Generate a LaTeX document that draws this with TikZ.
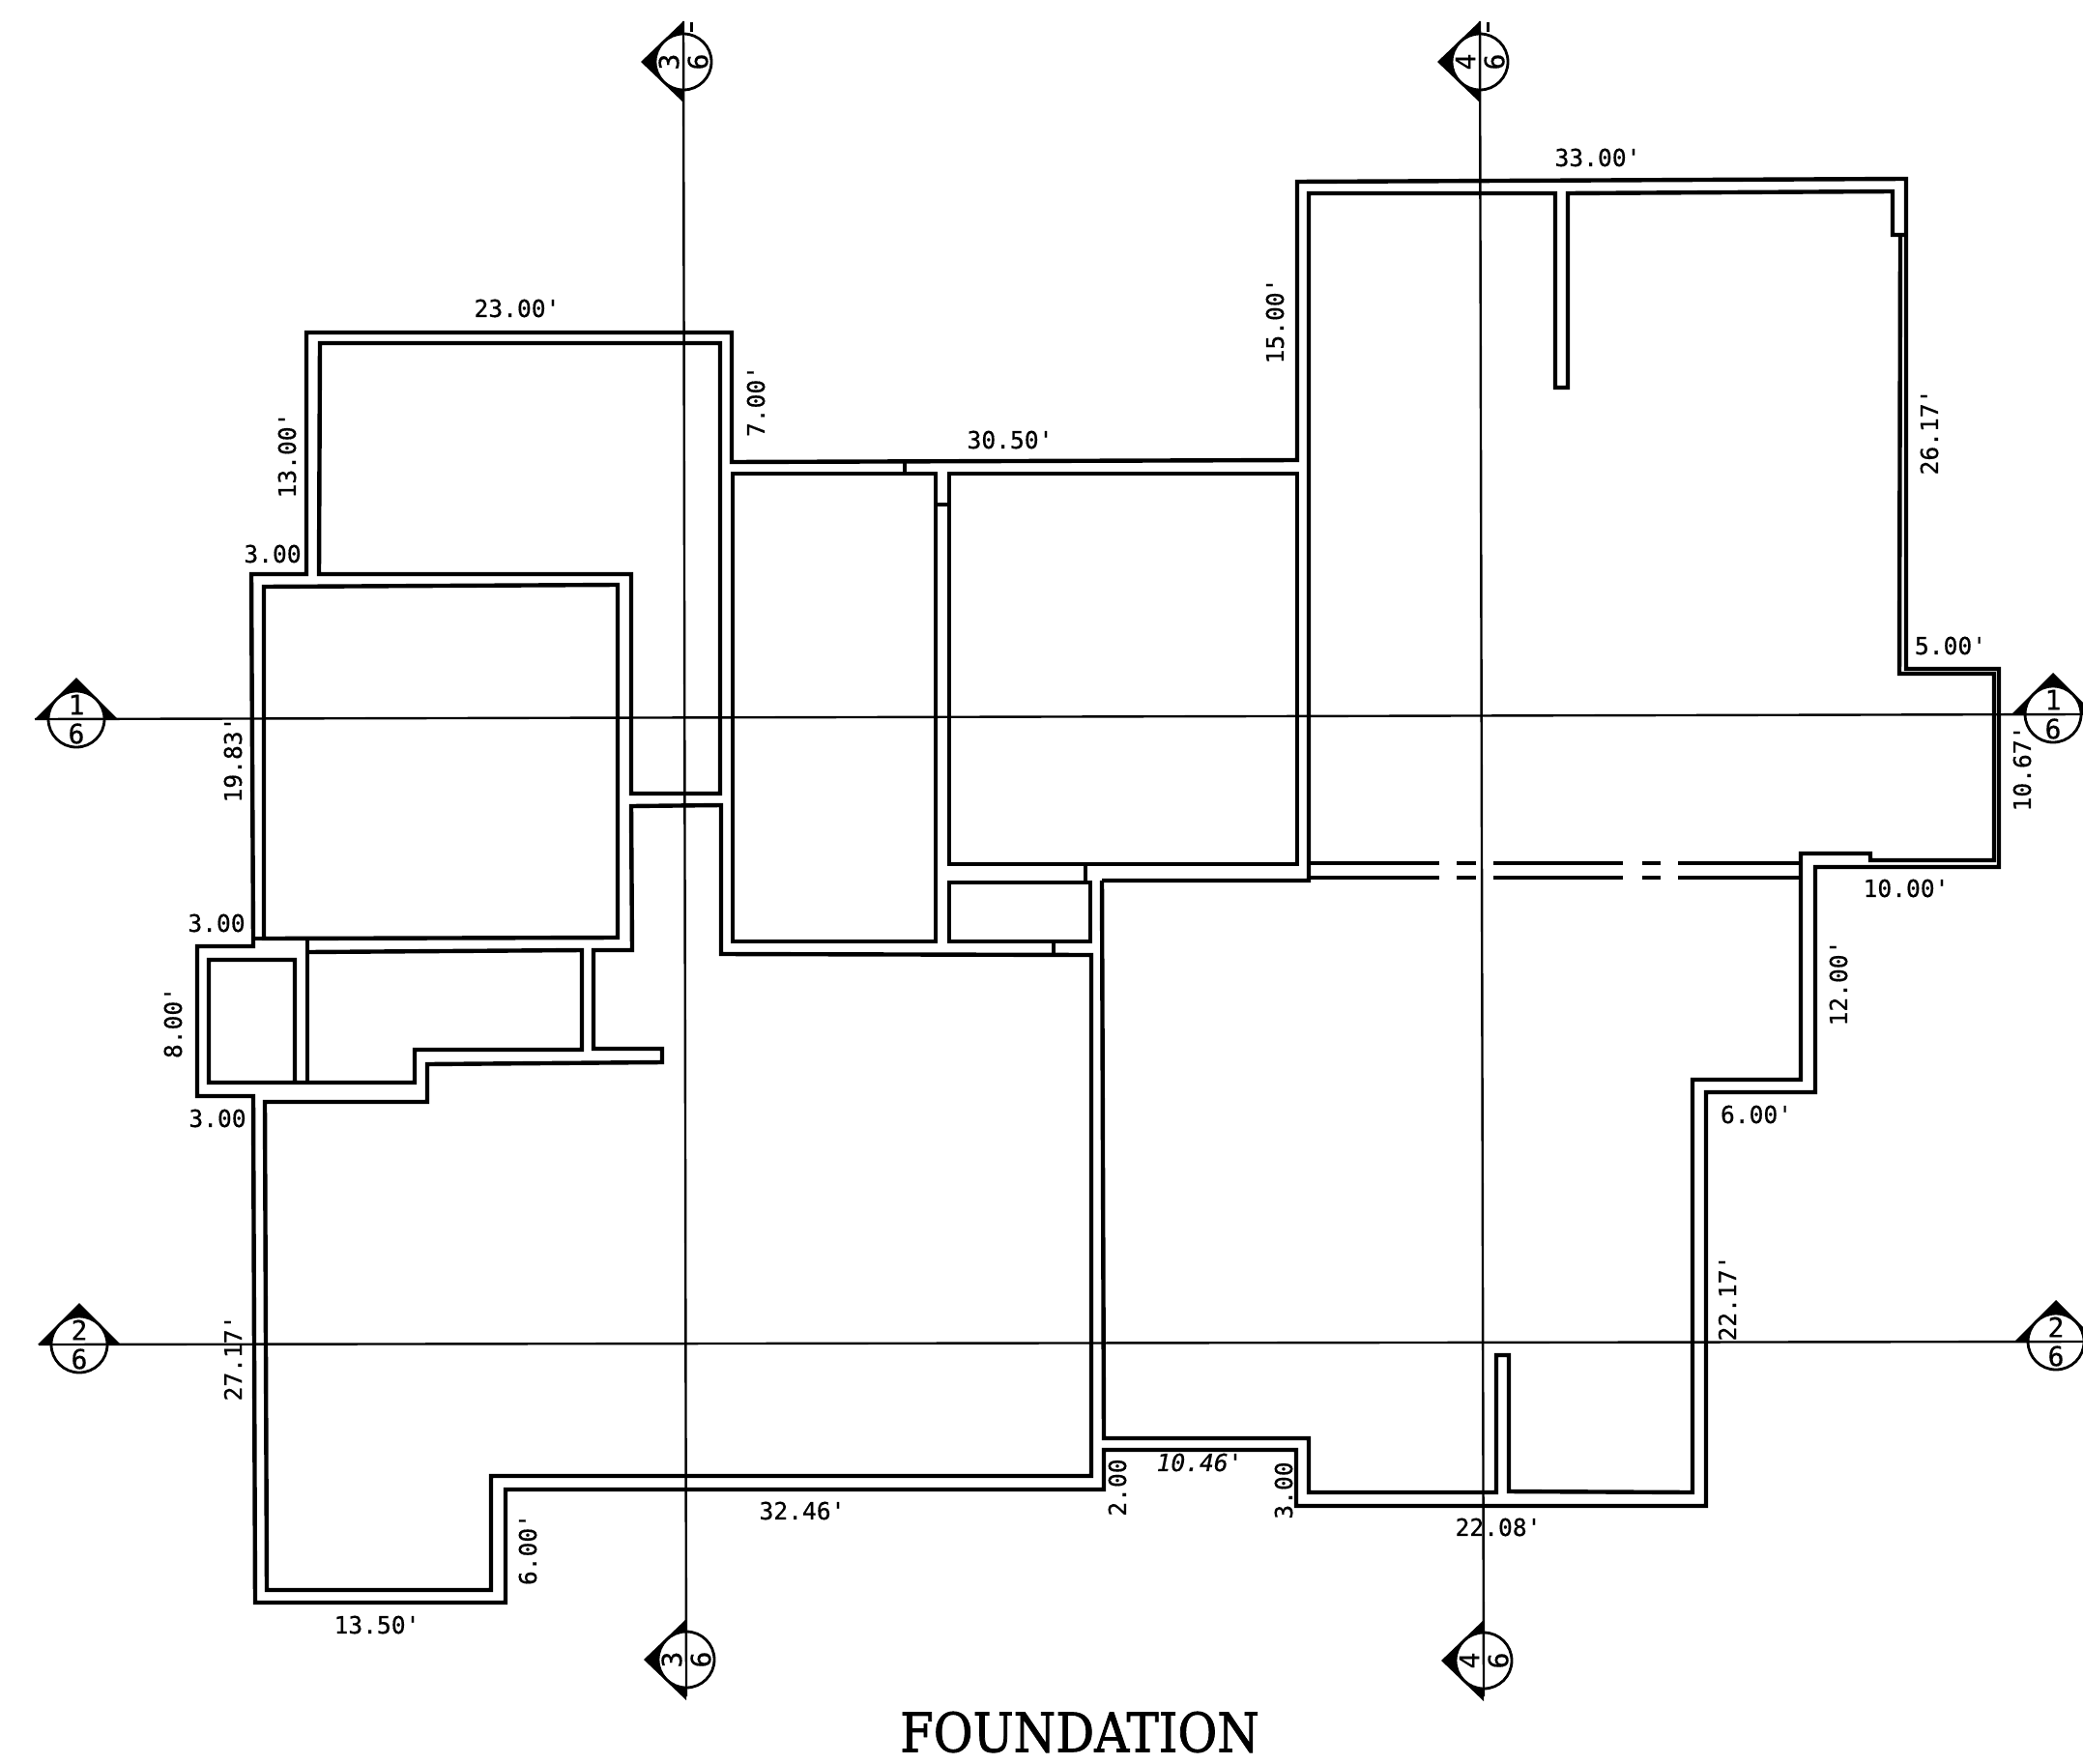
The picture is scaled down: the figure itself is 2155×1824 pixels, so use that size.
\documentclass[tikz,border=0pt]{standalone}
\usepackage{fontspec}
\newfontfamily\dimf[FakeBold=0.5]{DejaVu Sans Mono}
\newfontfamily\titlef[FakeBold=1.5]{DejaVu Serif}
\tikzset{
  wall/.style={line width=2.2pt,line join=miter,black},
  axis/.style={line width=1.2pt,black},
  dimlabel/.style={font=\dimf\fontsize{12.3}{14}\selectfont,inner sep=0pt,text=black},
  symtext/.style={font=\dimf\fontsize{14}{15}\selectfont,inner sep=0pt,text=black},
  bubble/.style={draw=black,line width=1.4pt,fill=white,circle,minimum size=29pt,inner sep=0pt}
}
% horizontal section marker: name, x, y, upper, lower
\newcommand\markH[5]{%
  \fill[black] (#2-43,#3) -- (#2,#3-43) -- (#2+43,#3) -- cycle;
  \node[bubble] (#1) at (#2,#3) {};
  \node[symtext] (#1u) at (#2,#3-15) {#4};
  \node[symtext] (#1l) at (#2,#3+15) {#5};
}
% vertical section marker: name, x, y, left, right
\newcommand\markV[5]{%
  \fill[black] (#2,#3-42) -- (#2-44,#3) -- (#2,#3+42) -- cycle;
  \node[bubble] (#1) at (#2,#3) {};
  \node[symtext,rotate=90] (#1u) at (#2-15,#3) {#4};
  \node[symtext,rotate=90] (#1l) at (#2+15,#3) {#5};
}
\begin{document}
\begin{tikzpicture}[x=0.5pt,y=-0.5pt]
\useasboundingbox (0,0) rectangle (2155,1824);
\begin{scope}
\clip (0,0) rectangle (2155,1824);
% outer wall
\draw[wall] (317,594) -- (317,344) -- (757,344) -- (757,478) -- (1342,476) -- (1342,188) -- (1972,185)
  -- (1972,692) -- (2068,692) -- (2068,897) -- (1878,897) -- (1878,1130) -- (1765,1130) -- (1765,1558)
  -- (1341,1558) -- (1341,1500) -- (1142,1500) -- (1142,1541) -- (523,1541) -- (523,1658) -- (264,1658)
  -- (262,1134) -- (204,1134) -- (204,979) -- (262,979) -- (262,971) -- (260,594) -- cycle;
% upper-left wing
\draw[wall] (330,594) -- (331,355) -- (745,355) -- (745,821) -- (653,821) -- (653,594) -- cycle;
% left room
\draw[wall] (273,607) -- (639,605) -- (639,970) -- (273,971) -- cycle;
\draw[wall] (262,971) -- (273,971);
% lower-left region
\draw[wall] (653,834) -- (746,833) -- (746,987) -- (1129,988) -- (1129,1527) -- (508,1527) -- (508,1645)
  -- (276,1645) -- (274,1140) -- (442,1140) -- (442,1101) -- (685,1099) -- (685,1085) -- (614,1085)
  -- (614,983) -- (654,983) -- cycle;
% small rooms at left
\draw[wall] (318,971) -- (318,1120);
\draw[wall] (318,985) -- (602,983) -- (602,1086) -- (429,1086) -- (429,1120) -- (216,1120) -- (216,993)
  -- (305,993) -- (305,1120);
% centre rooms
\draw[wall] (758,490) -- (968,490) -- (968,974) -- (758,974) -- cycle;
\draw[wall] (982,490) -- (1342,490) -- (1342,894) -- (982,894) -- cycle;
\draw[wall] (982,913) -- (1128,913) -- (1128,974) -- (982,974) -- cycle;
\draw[wall] (936,478) -- (936,490);
\draw[wall] (968,522) -- (982,522);
\draw[wall] (1123,894) -- (1123,913);
\draw[wall] (1090,974) -- (1090,988);
% large right region
\draw[wall] (1140,911) -- (1354,911) -- (1354,200) -- (1609,200) -- (1609,401) -- (1622,401) -- (1622,200)
  -- (1958,198) -- (1958,243) -- (1972,243);
\draw[wall] (1966,243) -- (1965,697) -- (2063,697) -- (2063,890) -- (1935,890) -- (1935,883) -- (1863,883)
  -- (1863,1117) -- (1751,1117) -- (1751,1544) -- (1561,1543) -- (1561,1402) -- (1548,1402) -- (1548,1544)
  -- (1354,1544) -- (1354,1488) -- (1142,1488) -- (1140,911);
% broken wall
\foreach \yy in {893,908}{
  \draw[wall] (1354,\yy) -- (1489,\yy);
  \draw[wall] (1507,\yy) -- (1527,\yy);
  \draw[wall] (1545,\yy) -- (1679,\yy);
  \draw[wall] (1699,\yy) -- (1718,\yy);
  \draw[wall] (1736,\yy) -- (1863,\yy);
}
% section markers
\markH{aL}{79}{744}{1}{6}
\markH{aR}{2124}{739}{1}{6}
\markH{bL}{82}{1391}{2}{6}
\markH{bR}{2127}{1388}{2}{6}
\markV{cT}{707}{64}{3}{6}
\markV{cB}{710}{1717}{3}{6}
\markV{dT}{1531}{64}{4}{6}
\markV{dB}{1535}{1718}{4}{6}
% axis lines
\coordinate (a1) at (36,744); \coordinate (a2) at (2155,739);
\coordinate (b1) at (40,1391); \coordinate (b2) at (2155,1388);
\coordinate (c1) at (707,22); \coordinate (c2) at (710,1755);
\coordinate (d1) at (1531,22); \coordinate (d2) at (1535,1755);
\draw[axis] (a1) -- (a2);
\draw[axis] (b1) -- (b2);
\draw[axis] (c1) -- (c2);
\draw[axis] (d1) -- (d2);
\draw[line width=1.5pt] (715,23) -- (715,33);
\draw[line width=1.5pt] (1539,23) -- (1539,33);
\end{scope}
% dimensions
\node[dimlabel] (t01) at (535,319) {23.00'};
\node[dimlabel] (t02) at (1653,163) {33.00'};
\node[dimlabel,rotate=90] (t03) at (297,471) {13.00'};
\node[dimlabel,rotate=90] (t04) at (782,415) {7.00'};
\node[dimlabel] (t05) at (1045,455) {30.50'};
\node[dimlabel,rotate=90] (t06) at (1319,332) {15.00'};
\node[dimlabel,rotate=90] (t07) at (1996,447) {26.17'};
\node[dimlabel] (t08) at (282,573) {3.00};
\node[dimlabel] (t09) at (2018,668) {5.00'};
\node[dimlabel,rotate=90] (t10) at (241,786) {19.83'};
\node[dimlabel,rotate=90] (t11) at (2092,795) {10.67'};
\node[dimlabel] (t12) at (224,955) {3.00};
\node[dimlabel,rotate=90] (t13) at (179,1058) {8.00'};
\node[dimlabel] (t14) at (225,1157) {3.00};
\node[dimlabel] (t15) at (1972,919) {10.00'};
\node[dimlabel,rotate=90] (t16) at (1902,1017) {12.00'};
\node[dimlabel] (t17) at (1817,1153) {6.00'};
\node[dimlabel,rotate=90] (t18) at (1787,1343) {22.17'};
\node[dimlabel,rotate=90] (t19) at (241,1405) {27.17'};
\node[dimlabel,font=\dimf\itshape\fontsize{12.3}{14}\selectfont] (t20) at (1241,1513) {10.46'};
\node[dimlabel,rotate=90] (t21) at (1156,1539) {2.00};
\node[dimlabel,rotate=90] (t22) at (1328,1542) {3.00};
\node[dimlabel] (t23) at (830,1563) {32.46'};
\node[dimlabel] (t24) at (1550,1580) {22.08'};
\node[dimlabel,rotate=90] (t25) at (546,1603) {6.00'};
\node[dimlabel] (t26) at (390,1681) {13.50'};
\node[inner sep=0pt,font=\titlef\fontsize{28}{30}\selectfont] (title) at (1117,1792) {\scalebox{0.89}[1]{FOUNDATION}};
\end{tikzpicture}
\end{document}
